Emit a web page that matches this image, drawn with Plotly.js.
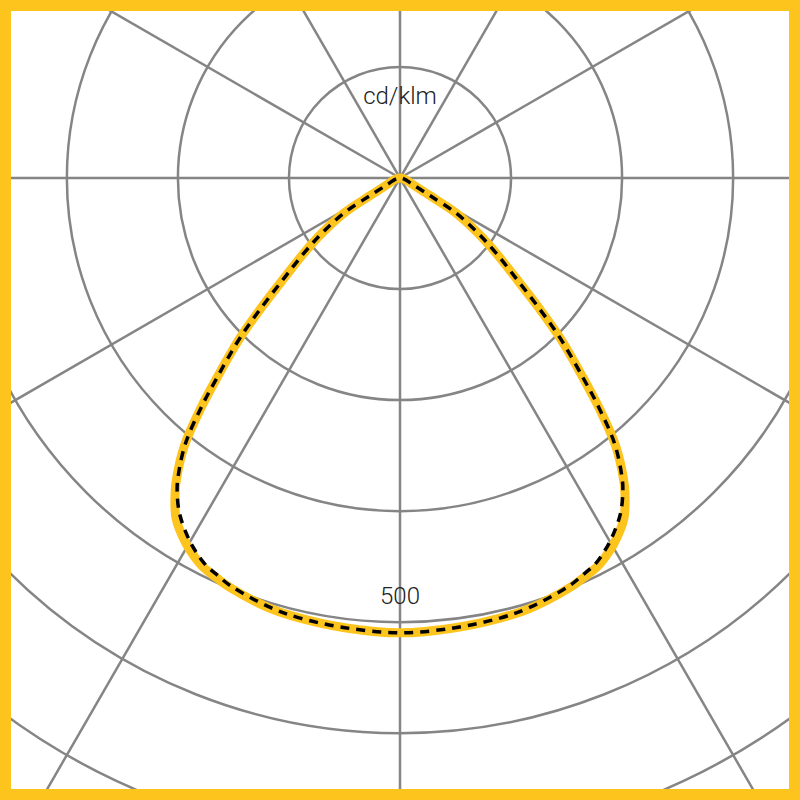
<!DOCTYPE html>
<html>
<head>
<meta charset="utf-8">
<script src="https://cdn.plot.ly/plotly-3.0.1.min.js"></script>
<style>
  html, body { margin: 0; padding: 0; width: 800px; height: 800px; overflow: hidden; background: #fff; }
  #chart { position: absolute; left: -340px; top: -562px; }
  #frame { position: absolute; left: 0; top: 0; width: 800px; height: 800px; box-sizing: border-box;
           border: 11px solid #fdc41e; pointer-events: none; z-index: 10; }
</style>
</head>
<body>
<div id="chart"></div>
<div id="frame"></div>
<script>
// gamma angle from the downward vertical, degrees (one half, mirrored to the other side)
const gammaDeg = [0, 7, 12.8, 16.8, 22.6, 24.7, 26.8, 28.5, 30.3, 33.3, 35.5, 36.6, 38.9, 40.9, 42.5, 45, 46.9, 49.2, 52, 54.8, 58, 59.6, 63.4, 76, 90];
// cd/klm, C0-C180 plane (yellow)
const planeC0 = [512, 510, 508, 506, 499, 495, 491, 485, 477, 459, 436, 422, 386, 342, 305, 255, 214, 172, 137, 107, 74, 38, 15, 5, 0];
// cd/klm, C90-C270 plane (dashed)
const planeC90 = [512, 510, 508, 505, 497, 492, 487, 480, 471, 452, 432, 419, 385, 342, 305, 255, 214, 172, 137, 107, 74, 38, 15, 5, 0];

const ringLabels = ["500"];
const ringLabelValues = [500];
const unitLabel = "cd/klm";

const SIZE = 1480;
const R_MAX = 833;

// mirror one half of the curve to both sides
function mirrorTheta(g) {
  const left = g.slice(1).reverse().map((v) => -v);
  return left.concat(g);
}
function mirrorR(r) {
  return r.slice(1).reverse().concat(r);
}

const grid = "#858585";
const textFont = { family: "Roboto, 'Liberation Sans', sans-serif", size: 24, color: "#222", weight: 300 };

Plotly.newPlot(
  "chart",
  [
    {
      type: "scatterpolar",
      mode: "lines",
      r: mirrorR(planeC0),
      theta: mirrorTheta(gammaDeg),
      line: { color: "#fdc41e", width: 9, shape: "spline" },
      hoverinfo: "skip",
    },
    {
      type: "scatterpolar",
      mode: "lines",
      r: mirrorR(planeC90),
      theta: mirrorTheta(gammaDeg),
      line: { color: "#000", width: 3.5, dash: "9px,7px", shape: "spline" },
      hoverinfo: "skip",
    },
    {
      type: "scatterpolar",
      mode: "text",
      r: ringLabelValues.map((v) => v - 27),
      theta: ringLabelValues.map(() => 0),
      text: ringLabels,
      textposition: "middle center",
      textfont: textFont,
      hoverinfo: "skip",
    },
    {
      type: "scatterpolar",
      mode: "text",
      r: [90],
      theta: [180],
      text: [unitLabel],
      textposition: "middle center",
      textfont: textFont,
      hoverinfo: "skip",
    },
  ],
  {
    width: SIZE,
    height: SIZE,
    margin: { l: 0, r: 0, t: 0, b: 0, pad: 0 },
    showlegend: false,
    paper_bgcolor: "#fff",
    polar: {
      domain: { x: [0, 1], y: [0, 1] },
      bgcolor: "#fff",
      angularaxis: {
        rotation: -90,
        direction: "counterclockwise",
        tickmode: "linear",
        tick0: 0,
        dtick: 30,
        showgrid: true,
        gridcolor: grid,
        gridwidth: 2.5,
        showline: false,
        ticks: "",
        showticklabels: false,
      },
      radialaxis: {
        range: [0, R_MAX],
        tickmode: "linear",
        tick0: 0,
        dtick: 125,
        showgrid: true,
        gridcolor: grid,
        gridwidth: 2.5,
        showline: false,
        ticks: "",
        showticklabels: false,
      },
    },
  },
  { staticPlot: true, displayModeBar: false }
);
</script>
</body>
</html>
